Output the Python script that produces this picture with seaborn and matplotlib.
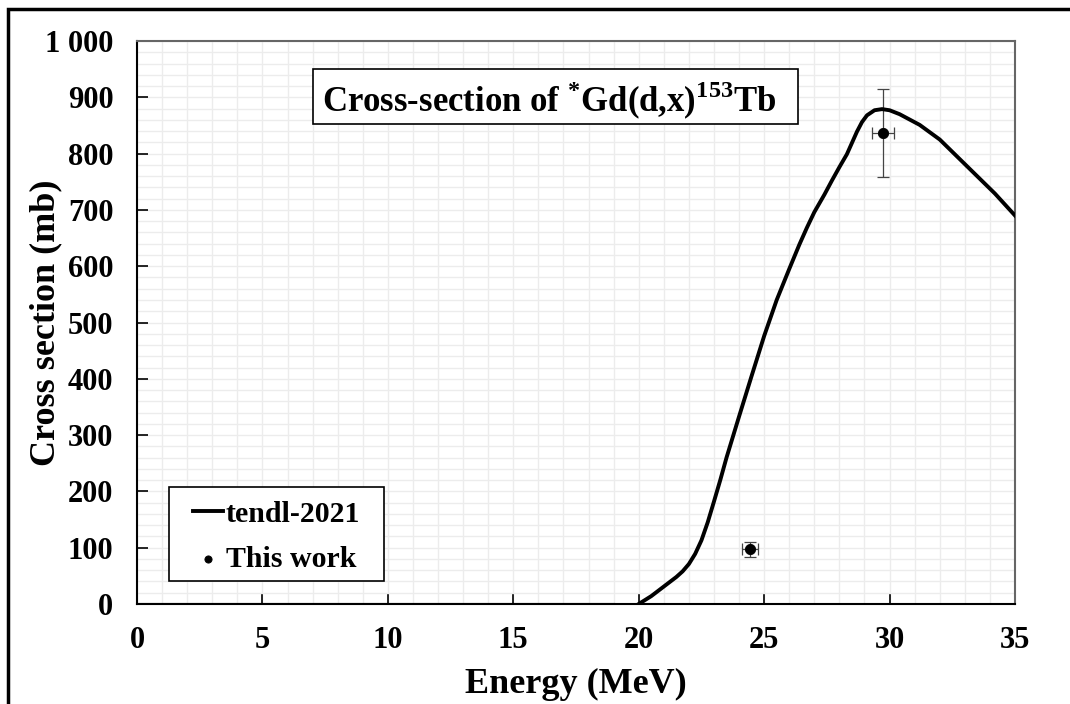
import matplotlib
matplotlib.use("Agg")
import matplotlib.pyplot as plt
import matplotlib.ticker as mticker
from matplotlib.patches import Rectangle
import numpy as np
import pandas as pd
import seaborn as sns

# tendl-2021 curve
tendl_energy = [20.0, 20.5, 21.0, 21.5, 21.75, 22.0, 22.25, 22.5, 22.75, 23.0, 23.25,
                23.5, 24.0, 24.5, 25.0, 25.5, 26.0, 26.4, 26.7, 27.0, 27.4,
                27.7, 28.0, 28.3, 28.5, 28.7, 28.9, 29.1, 29.4, 29.7, 30.0,
                30.4, 31.2, 32.0, 33.1, 34.2, 35.0]
tendl_xs = [0, 14, 31, 48, 58, 71, 89, 113, 145, 182, 220,
            260, 333, 405, 476, 540, 595, 638, 668, 696, 727,
            752, 776, 799, 819, 839, 856, 868, 877, 879, 877,
            870, 851, 825, 777, 729, 690]
# flat zero part below threshold
low_energy = [0.0, 19.0]
low_xs = [0, 0]

# this work
work_energy = [24.44, 29.74]
work_xs = [97, 837]
work_xerr = [0.31, 0.45]
work_yerr = [14, 78]

plt.rcParams['font.family'] = ['Liberation Serif', 'DejaVu Serif']
plt.rcParams['font.weight'] = 'bold'
plt.rcParams['mathtext.fontset'] = 'custom'
plt.rcParams['mathtext.rm'] = 'Liberation Serif:bold'
plt.rcParams['mathtext.bf'] = 'Liberation Serif:bold'

fig = plt.figure(figsize=(10.7, 7.04), dpi=100)
ax = fig.add_axes([137 / 1070, 1 - 604 / 704, 878 / 1070, 563 / 704])

# outer frame
fig.patches.append(Rectangle((8 / 1070, -0.1), 1.2, 1.1 - 9 / 704, transform=fig.transFigure,
                             fill=False, edgecolor='black', linewidth=2.5, zorder=0))

df_curve = pd.DataFrame({'E': tendl_energy, 'xs': tendl_xs})
df_low = pd.DataFrame({'E': low_energy, 'xs': low_xs})
df_work = pd.DataFrame({'E': work_energy, 'xs': work_xs})

ax.errorbar(work_energy, work_xs, xerr=work_xerr, yerr=work_yerr, fmt='none',
            ecolor='#444444', elinewidth=0.9, capsize=4, capthick=0.9, zorder=3)
sns.lineplot(data=df_curve, x='E', y='xs', ax=ax, color='black', linewidth=2.8,
             label='tendl-2021', zorder=4, solid_joinstyle='round')
sns.lineplot(data=df_low, x='E', y='xs', ax=ax, color='black', linewidth=1.5, zorder=4)
sns.scatterplot(data=df_work, x='E', y='xs', ax=ax, color='black', s=55,
                edgecolor='black', label='This work', zorder=5)

ax.set_xlim(0, 35)
ax.set_ylim(0, 1000)
ax.xaxis.set_major_locator(mticker.MultipleLocator(5))
ax.xaxis.set_minor_locator(mticker.MultipleLocator(1))
ax.yaxis.set_major_locator(mticker.MultipleLocator(100))
ax.yaxis.set_minor_locator(mticker.MultipleLocator(20))
ax.yaxis.set_major_formatter(mticker.FuncFormatter(lambda v, p: f"{int(v):,}".replace(',', ' ')))

ax.grid(which='both', color='#ececec', linewidth=1.0)
ax.set_axisbelow(True)
ax.tick_params(which='major', direction='in', length=8, width=1.2, labelsize=22,
               top=False, right=False)
ax.tick_params(axis='y', which='major', pad=17)
ax.tick_params(axis='x', which='major', pad=16)
ax.tick_params(which='minor', length=0)
for lab in ax.get_xticklabels() + ax.get_yticklabels():
    lab.set_fontweight('bold')

for side in ['left', 'bottom']:
    ax.spines[side].set_color('black')
    ax.spines[side].set_linewidth(1.5)
for side in ['top', 'right']:
    ax.spines[side].set_color('#666666')
    ax.spines[side].set_linewidth(1.5)

ax.set_xlabel('Energy (MeV)', fontsize=26, fontweight='bold')
ax.set_ylabel('Cross section (mb)', fontsize=26, fontweight='bold')
ax.xaxis.set_label_coords(0.5, -0.113)
ax.yaxis.set_label_coords(-0.085, 0.5)

# title box
ax.add_patch(Rectangle((176 / 878, 480 / 563), 485 / 878, 55 / 563, transform=ax.transAxes,
                       facecolor='white', edgecolor='black', linewidth=1.2, zorder=6))
ax.text(0.4692, 0.8739, r'Cross-section of $^{*}$Gd(d,x)$^{153}$Tb', transform=ax.transAxes,
        ha='center', va='baseline', fontsize=25, fontweight='bold', zorder=7)

# legend box
ax.add_patch(Rectangle((32 / 878, 23 / 563), 215 / 878, 94 / 563, transform=ax.transAxes,
                       facecolor='white', edgecolor='black', linewidth=1.2, zorder=6))
leg = ax.legend(loc='center', bbox_to_anchor=(139.5 / 878, 67 / 563), frameon=False,
                handlelength=1.0, handletextpad=0.1, borderpad=0.0, labelspacing=0.62,
                markerscale=0.7, borderaxespad=0,
                prop={'weight': 'bold', 'size': 21.5})
leg.set_zorder(8)

fig.savefig('out.png', dpi=100)
